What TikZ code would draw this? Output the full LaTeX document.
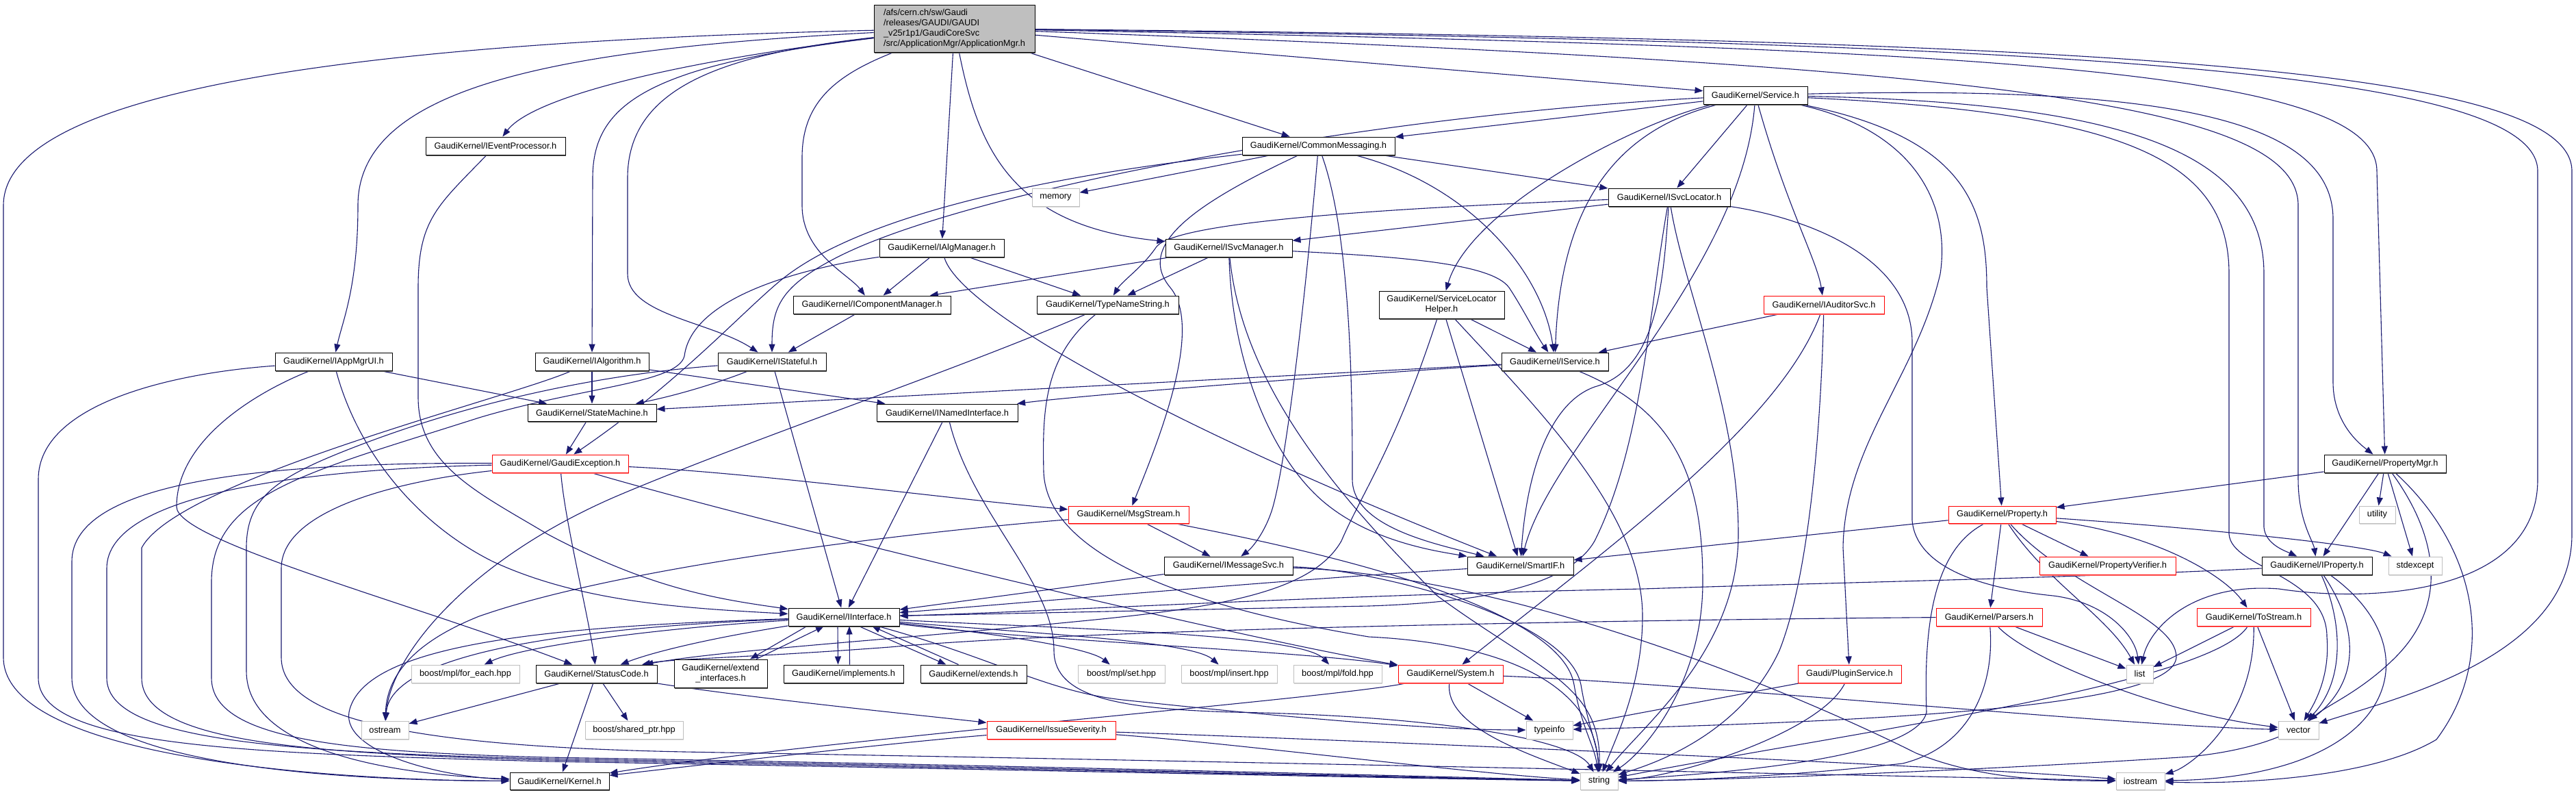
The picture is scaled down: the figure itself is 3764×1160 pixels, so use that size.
\documentclass[tikz,border=0pt]{standalone}
\usepackage{fontspec}
\newfontfamily\dfont{Liberation Sans}
\usetikzlibrary{arrows.meta,shadows}
\definecolor{mblue}{RGB}{25,25,112}
\definecolor{lgray}{RGB}{191,191,191}
\pgfdeclarelayer{edges}
\pgfsetlayers{edges,main}
\tikzset{
 base/.style={rectangle, inner sep=0pt, minimum height=26pt, font=\dfont\fontsize{12.8}{15}\selectfont, fill=white, line width=1pt},
 nb/.style={base, draw=black, drop shadow={shadow xshift=1.2pt, shadow yshift=-1.6pt, fill=black!65, opacity=1}},
 nr/.style={base, draw=red, drop shadow={shadow xshift=1.2pt, shadow yshift=-1.6pt, fill=red!50, opacity=1}},
 ng/.style={base, draw=lgray, drop shadow={shadow xshift=1.2pt, shadow yshift=-1.6pt, fill=lgray!60, opacity=1}},
 nt/.style={base, draw=black, fill=lgray, drop shadow={shadow xshift=1.2pt, shadow yshift=-1.6pt, fill=black!65, opacity=1}},
 e/.style={draw=mblue, line width=1.1pt, -{Triangle[length=12pt,width=9pt]}}
}
\begin{document}
\begin{tikzpicture}[x=1pt,y=1pt]
\useasboundingbox (0,0) rectangle (3764,-1160);
% nodes
\node[nt,minimum width=235pt,minimum height=69pt,align=left] (am) at (1394.5,-41.5) {/afs/cern.ch/sw/Gaudi\\/releases/GAUDI/GAUDI\\\_v25r1p1/GaudiCoreSvc\\/src/ApplicationMgr/ApplicationMgr.h};
\node[nb,minimum width=204pt] (evp) at (724,-213) {GaudiKernel/IEventProcessor.h};
\node[nb,minimum width=223pt] (cmsg) at (1926.5,-213) {GaudiKernel/CommonMessaging.h};
\node[ng,minimum width=69pt] (memory) at (1542.5,-288) {memory};
\node[nb,minimum width=182pt] (algmgr) at (1376,-362) {GaudiKernel/IAlgManager.h};
\node[nb,minimum width=185pt] (svcmgr) at (1795.5,-362) {GaudiKernel/ISvcManager.h};
\node[nb,minimum width=152pt] (service) at (2565,-139) {GaudiKernel/Service.h};
\node[nb,minimum width=178pt] (svcloc) at (2439,-288) {GaudiKernel/ISvcLocator.h};
\node[nb,minimum width=171pt] (appmgrui) at (487.5,-528) {GaudiKernel/IAppMgrUI.h};
\node[nb,minimum width=166pt] (ialg) at (865,-528) {GaudiKernel/IAlgorithm.h};
\node[nb,minimum width=188pt,minimum height=25pt] (sm) at (865,-602.5) {GaudiKernel/StateMachine.h};
\node[nr,minimum width=199pt] (gexc) at (818.5,-677) {GaudiKernel/GaudiException.h};
\node[nb,minimum width=230pt] (icm) at (1274,-445) {GaudiKernel/IComponentManager.h};
\node[nb,minimum width=207pt] (tns) at (1618.5,-445) {GaudiKernel/TypeNameString.h};
\node[nb,minimum width=158pt] (istateful) at (1128,-528) {GaudiKernel/IStateful.h};
\node[nb,minimum width=206pt,minimum height=25pt] (inamed) at (1384,-602.5) {GaudiKernel/INamedInterface.h};
\node[nr,minimum width=176pt,minimum height=25pt] (msgstream) at (1649,-751.5) {GaudiKernel/MsgStream.h};
\node[nb,minimum width=183pt,minimum height=40pt,align=center] (slh) at (2106.5,-445) {GaudiKernel/ServiceLocator\\Helper.h};
\node[nb,minimum width=156pt] (iservice) at (2272,-528) {GaudiKernel/IService.h};
\node[nr,minimum width=176pt] (iaud) at (2665,-445) {GaudiKernel/IAuditorSvc.h};
\node[nr,minimum width=157pt,minimum height=25pt] (property) at (2925.5,-751.5) {GaudiKernel/Property.h};
\node[nb,minimum width=178pt] (propmgr) at (3485,-677) {GaudiKernel/PropertyMgr.h};
\node[ng,minimum width=53pt,minimum height=25pt] (utility) at (3473.5,-751.5) {utility};
\node[ng,minimum width=158pt] (foreach) at (680,-984) {boost/mpl/for\_each.hpp};
\node[nb,minimum width=177pt] (statuscode) at (871.5,-984) {GaudiKernel/StatusCode.h};
\node[nb,minimum width=136pt,minimum height=41pt,align=center] (extif) at (1053,-983.5) {GaudiKernel/extend\\\_interfaces.h};
\node[ng,minimum width=69pt] (ostream) at (562.5,-1066) {ostream};
\node[ng,minimum width=143pt] (sharedptr) at (926.5,-1066) {boost/shared\_ptr.hpp};
\node[nb,minimum width=145pt,minimum height=25pt] (kernel) at (817.5,-1140.5) {GaudiKernel/Kernel.h};
\node[nb,minimum width=188pt] (imsgsvc) at (1795,-826) {GaudiKernel/IMessageSvc.h};
\node[nb,minimum width=162pt] (iinterface) at (1233,-901) {GaudiKernel/IInterface.h};
\node[nb,minimum width=175pt] (implements) at (1232.5,-984) {GaudiKernel/implements.h};
\node[nb,minimum width=155pt] (extends) at (1422.5,-984) {GaudiKernel/extends.h};
\node[ng,minimum width=127pt] (mplset) at (1638.5,-984) {boost/mpl/set.hpp};
\node[ng,minimum width=140pt] (mplinsert) at (1796,-984) {boost/mpl/insert.hpp};
\node[ng,minimum width=129pt] (mplfold) at (1954.5,-984) {boost/mpl/fold.hpp};
\node[nr,minimum width=188pt] (issue) at (1536,-1066) {GaudiKernel/IssueSeverity.h};
\node[nb,minimum width=155pt] (smartif) at (2221.5,-826) {GaudiKernel/SmartIF.h};
\node[nr,minimum width=153pt] (system) at (2119.5,-984) {GaudiKernel/System.h};
\node[ng,minimum width=68pt] (typeinfo) at (2264,-1066) {typeinfo};
\node[ng,minimum width=55pt,minimum height=25pt] (string) at (2336.5,-1140.5) {string};
\node[nr,minimum width=151pt] (plugin) at (2702.5,-984) {Gaudi/PluginService.h};
\node[nr,minimum width=155pt] (parsers) at (2906.5,-901) {GaudiKernel/Parsers.h};
\node[nr,minimum width=199pt] (propverif) at (3079.5,-826) {GaudiKernel/PropertyVerifier.h};
\node[nb,minimum width=161pt] (iproperty) at (3385.5,-826) {GaudiKernel/IProperty.h};
\node[ng,minimum width=78pt] (stdexcept) at (3529,-826) {stdexcept};
\node[nr,minimum width=166pt] (tostream) at (3293,-901) {GaudiKernel/ToStream.h};
\node[ng,minimum width=39pt] (list) at (3126.5,-984) {list};
\node[ng,minimum width=59pt] (vector) at (3358.5,-1066) {vector};
\node[ng,minimum width=71pt,minimum height=25pt] (iostream) at (3127.5,-1140.5) {iostream};

\begin{pgfonlayer}{edges}
\fill[white] (0,0) rectangle (3764,-1160);
% ApplicationMgr.h
\draw[e] (am) .. controls (600,-60) and (5,-120) .. (5,-300) -- (5,-960) .. controls (5,-1110) and (500,-1140) .. (kernel);
\draw[e] (am) .. controls (800,-72) and (523,-130) .. (523,-300) .. controls (523,-420) and (500,-470) .. (appmgrui);
\draw[e] (am) .. controls (1000,-88) and (780,-140) .. (evp);
\draw[e] (am) .. controls (950,-95) and (866,-150) .. (866,-260) -- (ialg);
\draw[e] (am) .. controls (1050,-80) and (917,-130) .. (917,-260) -- (917,-400) .. controls (917,-460) and (1040,-470) .. (istateful);
\draw[e] (am) .. controls (1220,-110) and (1172,-150) .. (1172,-230) -- (1172,-300) .. controls (1172,-370) and (1240,-400) .. (icm);
\draw[e] (am) -- (algmgr);
\draw[e] (am) .. controls (1430,-220) and (1480,-330) .. (svcmgr);
\draw[e] (am) -- (cmsg);
\draw[e] (am) -- (service);
\draw[e] (am) .. controls (2900,-70) and (3473,-100) .. (3473,-250) -- (propmgr);
\draw[e] (am) .. controls (3000,-62) and (3708,-100) .. (3708,-250) -- (3708,-700) .. controls (3708,-870) and (3460,-880) .. (3330,-860) .. controls (3200,-850) and (3140,-920) .. (list);
\draw[e] (am) .. controls (3100,-58) and (3758,-100) .. (3758,-250) -- (3758,-780) .. controls (3758,-960) and (3500,-1020) .. (vector);
\draw[e] (am) .. controls (2900,-95) and (3358,-150) .. (3358,-300) -- (3358,-700) .. controls (3358,-760) and (3380,-790) .. (iproperty);
% Service.h
\draw[e] (service) -- (cmsg);
\draw[e] (service) .. controls (2000,-168) and (1400,-280) .. (1215,-380) .. controls (1140,-420) and (1128,-450) .. (istateful);
\draw[e] (service) .. controls (2400,-175) and (2150,-300) .. (slh);
\draw[e] (service) .. controls (2360,-190) and (2280,-300) .. (iservice);
\draw[e] (service) -- (svcloc);
\draw[e] (service) .. controls (2545,-400) and (2265,-650) .. (smartif);
\draw[e] (service) .. controls (2610,-300) and (2655,-380) .. (iaud);
\draw[e] (service) .. controls (2800,-190) and (2850,-300) .. (2835,-400) .. controls (2800,-550) and (2695,-650) .. (2693,-800) -- (plugin);
\draw[e] (service) .. controls (2870,-200) and (2903,-300) .. (2903,-420) -- (property);
\draw[e] (service) .. controls (3100,-165) and (3257,-230) .. (3257,-400) -- (3257,-780) .. controls (3260,-830) and (3400,-840) .. (3400,-930) .. controls (3405,-990) and (3380,-1030) .. (vector);
\draw[e] (service) .. controls (3100,-150) and (3308,-220) .. (3308,-400) -- (3308,-770) .. controls (3310,-795) and (3340,-805) .. (iproperty);
\draw[e] (service) .. controls (3150,-125) and (3409,-170) .. (3409,-320) -- (3409,-560) .. controls (3410,-620) and (3450,-650) .. (propmgr);
% CommonMessaging.h
\draw[e] (cmsg) -- (memory);
\draw[e] (cmsg) .. controls (1500,-260) and (1250,-320) .. (1140,-410) .. controls (1080,-460) and (990,-560) .. (gexc);
\draw[e] (cmsg) .. controls (1740,-300) and (1660,-360) .. (1710,-420) .. controls (1760,-480) and (1690,-650) .. (msgstream);
\draw[e] (cmsg) .. controls (1915,-350) and (1885,-650) .. (1860,-740) .. controls (1850,-775) and (1830,-800) .. (imsgsvc);
\draw[e] (cmsg) -- (svcloc);
\draw[e] (cmsg) .. controls (2150,-270) and (2255,-400) .. (iservice);
\draw[e] (cmsg) .. controls (1976,-350) and (1976,-600) .. (1976,-700) .. controls (1976,-770) and (2100,-795) .. (smartif);
% ISvcLocator.h
\draw[e] (svcloc) -- (svcmgr);
\draw[e] (svcloc) .. controls (2000,-305) and (1720,-325) .. (1690,-360) .. controls (1670,-390) and (1640,-410) .. (tns);
\draw[e] (svcloc) .. controls (2410,-450) and (2400,-650) .. (2330,-790) .. controls (2290,-860) and (2150,-880) .. (2000,-885) -- (iinterface);
\draw[e] (svcloc) .. controls (2430,-420) and (2420,-540) .. (2330,-565) .. controls (2260,-590) and (2230,-700) .. (smartif);
\draw[e] (svcloc) .. controls (2460,-420) and (2540,-600) .. (2540,-780) .. controls (2540,-950) and (2400,-1060) .. (string);
\draw[e] (svcloc) .. controls (2650,-320) and (2794,-380) .. (2794,-500) -- (2794,-760) .. controls (2800,-830) and (2900,-860) .. (3000,-870) .. controls (3080,-880) and (3120,-930) .. (list);
% ISvcManager.h
\draw[e] (svcmgr) -- (icm);
\draw[e] (svcmgr) -- (tns);
\draw[e] (svcmgr) .. controls (2050,-375) and (2180,-385) .. (2205,-420) .. controls (2225,-450) and (2245,-490) .. (iservice);
\draw[e] (svcmgr) .. controls (1800,-520) and (1850,-650) .. (1920,-720) .. controls (1990,-790) and (2100,-805) .. (smartif);
\draw[e] (svcmgr) .. controls (1815,-560) and (1950,-720) .. (2100,-870) .. controls (2250,-980) and (2340,-1000) .. (string);
% IAlgManager.h
\draw[e] (algmgr) -- (icm);
\draw[e] (algmgr) -- (tns);
\draw[e] (algmgr) .. controls (1400,-450) and (1700,-620) .. (smartif);
\draw[e] (algmgr) .. controls (1150,-395) and (1010,-440) .. (1000,-520) .. controls (990,-560) and (850,-565) .. (700,-610) .. controls (450,-690) and (309,-720) .. (309,-850) -- (309,-990) .. controls (309,-1080) and (500,-1098) .. (800,-1106) .. controls (1400,-1116) and (2100,-1134) .. (string);
% TypeNameString.h
\draw[e] (tns) .. controls (1400,-540) and (1100,-640) .. (900,-725) .. controls (680,-820) and (570,-960) .. (ostream);
\draw[e] (tns) .. controls (1525,-520) and (1523,-600) .. (1525,-690) .. controls (1530,-800) and (1700,-880) .. (2000,-930) .. controls (2200,-940) and (2330,-1000) .. (string);
% IComponentManager.h, IStateful.h
\draw[e] (icm) -- (istateful);
\draw[e] (istateful) -- (iinterface);
\draw[e] (istateful) .. controls (1060,-555) and (1000,-575) .. (sm);
\draw[e] (istateful) .. controls (900,-545) and (700,-580) .. (500,-660) .. controls (400,-700) and (360,-730) .. (360,-800) -- (360,-980) .. controls (360,-1090) and (550,-1130) .. (kernel);
% INamedInterface.h
\draw[e] (inamed) -- (iinterface);
\draw[e] (inamed) .. controls (1420,-750) and (1540,-850) .. (1540,-950) .. controls (1540,-1020) and (1640,-1035) .. (1800,-1040) .. controls (2100,-1045) and (2300,-1080) .. (string);
% StateMachine.h, GaudiException.h
\draw[e] (sm) -- (gexc);
\draw[e] (gexc) .. controls (400,-675) and (105,-700) .. (105,-820) -- (105,-990) .. controls (105,-1110) and (450,-1140) .. (kernel);
\draw[e] (gexc) .. controls (450,-685) and (156,-720) .. (156,-830) -- (156,-990) .. controls (156,-1080) and (400,-1098) .. (800,-1108) .. controls (1400,-1118) and (2100,-1136) .. (string);
\draw[e] (gexc) .. controls (600,-700) and (411,-740) .. (411,-830) -- (411,-960) .. controls (411,-1050) and (600,-1090) .. (1000,-1098) .. controls (1800,-1112) and (2600,-1130) .. (iostream);
\draw[e] (gexc) .. controls (825,-760) and (860,-900) .. (statuscode);
\draw[e] (gexc) .. controls (1100,-760) and (1800,-930) .. (system);
\draw[e] (gexc) .. controls (1100,-690) and (1400,-730) .. (msgstream);
% IAppMgrUI.h
\draw[e] (appmgrui) .. controls (250,-545) and (56,-590) .. (56,-700) -- (56,-990) .. controls (56,-1090) and (350,-1100) .. (800,-1112) .. controls (1400,-1122) and (2100,-1138) .. (string);
\draw[e] (appmgrui) .. controls (380,-570) and (258,-640) .. (258,-740) .. controls (258,-790) and (600,-880) .. (statuscode);
\draw[e] (appmgrui) .. controls (520,-650) and (600,-760) .. (720,-820) .. controls (850,-880) and (1000,-888) .. (iinterface);
\draw[e] (appmgrui) -- (sm);
% IEventProcessor.h
\draw[e] (evp) .. controls (640,-300) and (611,-320) .. (611,-420) -- (611,-580) .. controls (611,-680) and (700,-720) .. (800,-780) .. controls (950,-860) and (1050,-875) .. (iinterface);
% IAlgorithm.h
\draw[e] (ialg) -- (inamed);
\draw[e] (ialg) -- (sm);
\draw[e] (ialg) .. controls (750,-580) and (260,-700) .. (207,-800) -- (207,-990) .. controls (207,-1085) and (450,-1100) .. (800,-1110) .. controls (1400,-1120) and (2100,-1137) .. (string);
% MsgStream.h, IMessageSvc.h
\draw[e] (msgstream) -- (imsgsvc);
\draw[e] (msgstream) .. controls (1300,-780) and (900,-830) .. (700,-900) .. controls (600,-940) and (565,-990) .. (ostream);
\draw[e] (msgstream) .. controls (1900,-800) and (2280,-880) .. (2300,-1000) .. controls (2310,-1060) and (2330,-1090) .. (string);
\draw[e] (imsgsvc) -- (iinterface);
\draw[e] (imsgsvc) .. controls (2000,-830) and (2290,-900) .. (2310,-1000) .. controls (2320,-1060) and (2335,-1090) .. (string);
\draw[e] (imsgsvc) .. controls (2200,-840) and (2600,-1000) .. (2800,-1100) .. controls (2900,-1140) and (3000,-1140) .. (iostream);
% IInterface.h
\draw[e] ([xshift=-54pt]iinterface.south) -- ([xshift=43pt]extif.north);
\draw[e] ([xshift=52pt]extif.north) -- ([xshift=-29pt]iinterface.south);
\draw[e] ([xshift=-9pt]iinterface.south) -- ([xshift=-8pt]implements.north);
\draw[e] ([xshift=9pt]implements.north) -- ([xshift=8pt]iinterface.south);
\draw[e] ([xshift=22pt]iinterface.south) -- ([xshift=-40pt]extends.north);
\draw[e] ([xshift=-22pt]extends.north) -- ([xshift=41pt]iinterface.south);
\draw[e] (iinterface) .. controls (1450,-925) and (1590,-945) .. (mplset);
\draw[e] (iinterface) .. controls (1500,-925) and (1740,-935) .. (mplinsert);
\draw[e] (iinterface) .. controls (1550,-918) and (1900,-925) .. (mplfold);
\draw[e] (iinterface) .. controls (1500,-935) and (1900,-950) .. (system);
\draw[e] (iinterface) .. controls (1450,-960) and (1530,-1010) .. (1640,-1022) .. controls (1900,-1050) and (2100,-1066) .. (typeinfo);
\draw[e] (iinterface) .. controls (800,-915) and (530,-940) .. (510,-1040) .. controls (500,-1100) and (650,-1135) .. (kernel);
\draw[e] (iinterface) .. controls (800,-918) and (570,-960) .. (ostream);
\draw[e] (iinterface) .. controls (1050,-930) and (960,-950) .. (statuscode);
\draw[e] (iinterface) .. controls (950,-918) and (760,-945) .. (foreach);
% StatusCode.h, IssueSeverity.h, System.h
\draw[e] (statuscode) -- (ostream);
\draw[e] (statuscode) -- (sharedptr);
\draw[e] (statuscode) -- (kernel);
\draw[e] (statuscode) .. controls (1100,-1020) and (1350,-1045) .. (issue);
\draw[e] (issue) .. controls (1300,-1085) and (1000,-1120) .. (kernel);
\draw[e] (issue) .. controls (1800,-1085) and (2150,-1130) .. (string);
\draw[e] (issue) .. controls (1900,-1078) and (2800,-1115) .. (iostream);
\draw[e] (system) .. controls (1950,-1020) and (1200,-1080) .. (kernel);
\draw[e] (system) .. controls (2110,-1060) and (2230,-1100) .. (string);
\draw[e] (system) -- (typeinfo);
\draw[e] (system) .. controls (2500,-1000) and (3100,-1060) .. (vector);
% SmartIF.h, ServiceLocatorHelper.h, IAuditorSvc.h, IService.h
\draw[e] (smartif) .. controls (1900,-845) and (1500,-880) .. (iinterface);
\draw[e] (slh) -- (iservice);
\draw[e] (slh) -- (smartif);
\draw[e] (slh) .. controls (2250,-600) and (2400,-750) .. (2400,-900) .. controls (2400,-1000) and (2360,-1080) .. (string);
\draw[e] (slh) .. controls (2040,-650) and (1990,-720) .. (1960,-790) .. controls (1920,-860) and (1800,-885) .. (1600,-905) .. controls (1300,-935) and (1050,-950) .. (statuscode);
\draw[e] (iaud) -- (iservice);
\draw[e] (iaud) .. controls (2600,-620) and (2350,-800) .. (system);
\draw[e] (iaud) .. controls (2660,-650) and (2640,-850) .. (2600,-950) .. controls (2540,-1080) and (2400,-1120) .. (string);
\draw[e] (iservice) .. controls (2000,-545) and (1600,-575) .. (inamed);
\draw[e] (iservice) -- (sm);
\draw[e] (iservice) .. controls (2450,-600) and (2488,-700) .. (2488,-850) .. controls (2488,-1000) and (2400,-1100) .. (string);
% PluginService.h
\draw[e] (plugin) -- (typeinfo);
\draw[e] (plugin) .. controls (2660,-1070) and (2450,-1135) .. (string);
% Property.h
\draw[e] (property) -- (smartif);
\draw[e] (property) -- (parsers);
\draw[e] (property) -- (propverif);
\draw[e] (property) .. controls (3150,-780) and (3250,-840) .. (tostream);
\draw[e] (property) .. controls (3200,-770) and (3450,-795) .. (stdexcept);
\draw[e] (property) .. controls (2990,-850) and (3080,-900) .. (list);
\draw[e] (property) .. controls (3020,-860) and (3180,-900) .. (3180,-960) .. controls (3175,-1020) and (2900,-1050) .. (typeinfo);
\draw[e] (property) .. controls (2830,-800) and (2810,-900) .. (2815,-1040) .. controls (2800,-1110) and (2500,-1130) .. (string);
% Parsers.h, ToStream.h
\draw[e] (parsers) .. controls (2400,-905) and (1600,-918) .. (1300,-945) .. controls (1100,-960) and (980,-962) .. (statuscode);
\draw[e] (parsers) -- (list);
\draw[e] (parsers) .. controls (2960,-960) and (3150,-1040) .. (vector);
\draw[e] (parsers) .. controls (2915,-1000) and (2880,-1090) .. (2780,-1115) .. controls (2600,-1135) and (2450,-1140) .. (string);
\draw[e] (tostream) -- (list);
\draw[e] (tostream) .. controls (3230,-1000) and (2700,-1070) .. (string);
\draw[e] (tostream) .. controls (3295,-1050) and (3200,-1120) .. (iostream);
\draw[e] (tostream) -- (vector);
% PropertyMgr.h, IProperty.h
\draw[e] (propmgr) -- (property);
\draw[e] (propmgr) -- (iproperty);
\draw[e] (propmgr) -- (utility);
\draw[e] (propmgr) -- (stdexcept);
\draw[e] (propmgr) .. controls (3560,-780) and (3580,-880) .. (3500,-960) .. controls (3450,-1010) and (3400,-1030) .. (vector);
\draw[e] (propmgr) .. controls (3620,-800) and (3650,-960) .. (3560,-1080) .. controls (3460,-1140) and (3250,-1145) .. (iostream);
\draw[e] (iproperty) .. controls (3000,-845) and (2700,-850) .. (2400,-860) .. controls (1900,-870) and (1500,-895) .. (iinterface);
\draw[e] (iproperty) .. controls (3420,-900) and (3430,-990) .. (vector);
\draw[e] (iproperty) .. controls (3470,-950) and (3450,-1080) .. (3200,-1105) .. controls (2900,-1125) and (2500,-1140) .. (string);
\draw[e] (iproperty) .. controls (3560,-950) and (3500,-1135) .. (iostream);
\end{pgfonlayer}
\end{tikzpicture}
\end{document}
